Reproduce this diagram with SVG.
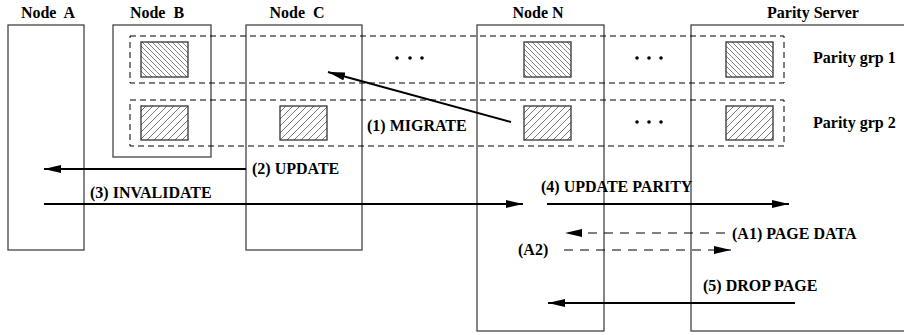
<svg xmlns="http://www.w3.org/2000/svg" width="904" height="335" viewBox="0 0 904 335">
<style>
  .node { fill: none; stroke: #444; stroke-width: 1.3; }
  .grp { fill: none; stroke: #000; stroke-width: 1; stroke-dasharray: 6 4; }
  .sq1 { fill: url(#hatch1); stroke: #333; stroke-width: 1.3; }
  .sq2 { fill: url(#hatch2); stroke: #333; stroke-width: 1.3; }
  .lbl { font-family: "Liberation Serif", "Times New Roman", serif; font-weight: bold; font-size: 16px; fill: #000; }
  .arr { stroke: #000; stroke-width: 2; fill: none; marker-end: url(#ah); }
  .darr { stroke: #000; stroke-width: 1.2; fill: none; stroke-dasharray: 9 7; marker-end: url(#ah); }
  .dot { fill: #000; }
</style>
<defs>
  <pattern id="hatch1" patternUnits="userSpaceOnUse" width="5" height="5">
    <rect width="5" height="5" fill="#fff"/>
    <path d="M0,0 L5,5 M-1,4 L1,6 M4,-1 L6,1" stroke="#666" stroke-width="0.8"/>
  </pattern>
  <pattern id="hatch2" patternUnits="userSpaceOnUse" width="7" height="7">
    <rect width="7" height="7" fill="#fff"/>
    <path d="M0,7 L7,0 M-1,1 L1,-1 M6,8 L8,6" stroke="#555" stroke-width="0.8"/>
  </pattern>
  <marker id="ah" markerUnits="userSpaceOnUse" markerWidth="18" markerHeight="10" refX="17" refY="4" orient="auto">
    <path d="M0,0 L17,4 L0,8 Z" fill="#000"/>
  </marker>
</defs>

<g id="nodeA">
  <rect class="node" x="8" y="25" width="76" height="225"/>
  <text class="lbl" x="48" y="18" text-anchor="middle" word-spacing="4">Node A</text>
</g>
<g id="nodeB">
  <rect class="node" x="113" y="25" width="98" height="132"/>
  <text class="lbl" x="157" y="18" text-anchor="middle" word-spacing="4">Node B</text>
</g>
<g id="nodeC">
  <rect class="node" x="246" y="25" width="116" height="225"/>
  <text class="lbl" x="297" y="18" text-anchor="middle" word-spacing="4">Node C</text>
</g>
<g id="nodeN">
  <rect class="node" x="477" y="25" width="127" height="306"/>
  <text class="lbl" x="538" y="18" text-anchor="middle">Node N</text>
</g>
<g id="parityServer">
  <rect class="node" x="691" y="25" width="230" height="306"/>
  <text class="lbl" x="813" y="18" text-anchor="middle">Parity Server</text>
</g>

<g id="parityGrp1">
  <rect class="grp" x="130" y="36" width="654" height="47"/>
  <rect class="sq1" x="141" y="42" width="47" height="35"/>
  <rect class="sq1" x="524" y="42" width="47" height="35"/>
  <rect class="sq1" x="726" y="42" width="47" height="35"/>
  <circle class="dot" cx="397" cy="58" r="1.8"/>
  <circle class="dot" cx="410" cy="58" r="1.8"/>
  <circle class="dot" cx="422" cy="58" r="1.8"/>
  <circle class="dot" cx="637" cy="58" r="1.8"/>
  <circle class="dot" cx="649" cy="58" r="1.8"/>
  <circle class="dot" cx="661" cy="58" r="1.8"/>
  <text class="lbl" x="813" y="63">Parity grp 1</text>
</g>
<g id="parityGrp2">
  <rect class="grp" x="130" y="100" width="654" height="46"/>
  <rect class="sq2" x="141" y="106" width="47" height="34"/>
  <rect class="sq2" x="280" y="106" width="47" height="34"/>
  <rect class="sq2" x="524" y="106" width="47" height="34"/>
  <rect class="sq2" x="726" y="106" width="47" height="34"/>
  <circle class="dot" cx="637" cy="122" r="1.8"/>
  <circle class="dot" cx="649" cy="122" r="1.8"/>
  <circle class="dot" cx="661" cy="122" r="1.8"/>
  <text class="lbl" x="813" y="128">Parity grp 2</text>
</g>

<g id="connectors">
  <line class="arr" x1="511" y1="122" x2="328" y2="72"/>
  <text class="lbl" x="367" y="131">(1) MIGRATE</text>
  <line class="arr" x1="246" y1="169" x2="44" y2="169"/>
  <text class="lbl" x="252" y="174">(2) UPDATE</text>
  <line class="arr" x1="44" y1="204" x2="523" y2="204"/>
  <text class="lbl" x="90" y="198">(3) INVALIDATE</text>
  <line class="arr" x1="547" y1="204" x2="789" y2="204"/>
  <text class="lbl" x="541" y="192">(4) UPDATE PARITY</text>
  <line class="darr" x1="725" y1="233" x2="565" y2="233"/>
  <text class="lbl" x="732" y="239">(A1) PAGE DATA</text>
  <line class="darr" x1="564" y1="250" x2="731" y2="250"/>
  <text class="lbl" x="518" y="255">(A2)</text>
  <line class="arr" x1="795" y1="303" x2="548" y2="303"/>
  <text class="lbl" x="703" y="291">(5) DROP PAGE</text>
</g>
</svg>
